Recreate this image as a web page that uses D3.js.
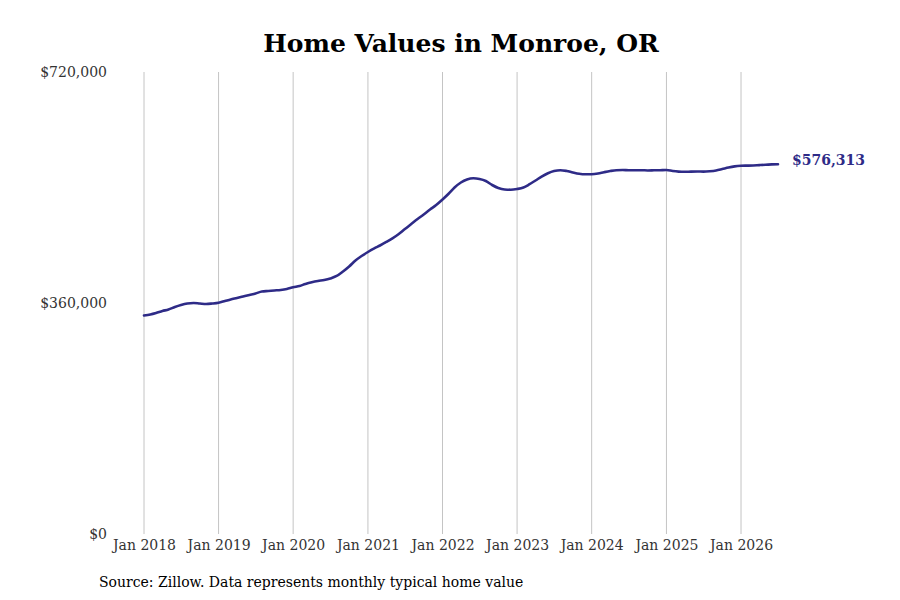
<!DOCTYPE html>
<html>
<head>
<meta charset="utf-8">
<script src="https://cdn.jsdelivr.net/npm/d3@7"></script>
<style>
  body { margin: 0; background: #fff; }
  text { font-family: "DejaVu Serif", serif; }
</style>
</head>
<body>
<script>
// monthly typical home value, Jan 2018 .. Jul 2026
let startMonth = '2018-01';
let values = [
    340500, 342100, 344400, 347500, 349900, 353800, 356900, 359200, 360000, 359200, 358400, 359200, // 2018
    360500, 363100, 365500, 367800, 370100, 372500, 374800, 377900, 378700, 379500, 380300, 381800, // 2019
    384500, 386500, 389600, 392300, 394300, 395800, 398200, 402100, 409100, 416900, 426200, 433200, // 2020
    439500, 445200, 449600, 455100, 460800, 467500, 475300, 483100, 490900, 497900, 505700, 512700, // 2021
    521300, 530600, 540000, 547800, 552500, 554300, 553200, 550100, 543900, 539200, 536900, 536600, // 2022
    537700, 540000, 544700, 550900, 557100, 562300, 565700, 567000, 565700, 563400, 561400, 560600, // 2023
    560700, 561800, 563800, 565700, 567000, 567300, 566800, 566800, 567000, 566600, 566800, 567000, // 2024
    567300, 565700, 564800, 564500, 564800, 564900, 564800, 565400, 566600, 568800, 571200, 572900, // 2025
    573800, 574100, 574400, 574900, 575400, 576000, 576313                                          // 2026
];
let yTicks = [0, 360000, 720000];
let xTickYears = [2018, 2019, 2020, 2021, 2022, 2023, 2024, 2025, 2026];

let title = 'Home Values in Monroe, OR';
let source = 'Source: Zillow. Data represents monthly typical home value';

let width = 900;
let height = 600;
let margin = {top: 72, right: 122, bottom: 66, left: 144};

let parseMonth = d3.timeParse('%Y-%m');
let start = parseMonth(startMonth);
let data = values.map((v, i) => ({date: d3.timeMonth.offset(start, i), value: v}));

let svg = d3.select('body').append('svg')
    .attr('width', width)
    .attr('height', height);

let x = d3.scaleTime()
    .domain([parseMonth('2018-01'), parseMonth('2026-07')])
    .range([margin.left, 778]);

let y = d3.scaleLinear()
    .domain([0, 720000])
    .range([height - margin.bottom, margin.top]);

// vertical grid lines
let xTicks = xTickYears.map(yr => new Date(yr, 0, 1));
svg.append('g')
    .selectAll('line')
    .data(xTicks)
    .join('line')
    .attr('x1', d => x(d))
    .attr('x2', d => x(d))
    .attr('y1', y(720000))
    .attr('y2', y(0))
    .attr('stroke', '#c4c4c4')
    .attr('stroke-width', 1);

// x axis labels
let xAxis = d3.axisBottom(x)
    .tickValues(xTicks)
    .tickFormat(d3.timeFormat('Jan %Y'))
    .tickSize(0)
    .tickPadding(6);

svg.append('g')
    .attr('transform', `translate(0,${y(0)})`)
    .call(xAxis)
    .call(g => g.select('.domain').remove())
    .selectAll('text')
    .attr('font-family', '"DejaVu Serif", serif')
    .attr('font-size', 14)
    .attr('fill', '#333');

// y axis labels
let yAxis = d3.axisLeft(y)
    .tickValues(yTicks)
    .tickFormat(d => '$' + d3.format(',')(d))
    .tickSize(0)
    .tickPadding(37);

svg.append('g')
    .attr('transform', `translate(${margin.left},0)`)
    .call(yAxis)
    .call(g => g.select('.domain').remove())
    .selectAll('text')
    .attr('font-family', '"DejaVu Serif", serif')
    .attr('font-size', 14)
    .attr('fill', '#333');

let line = d3.line()
    .x(d => x(d.date))
    .y(d => y(d.value))
    .curve(d3.curveMonotoneX);

svg.append('path')
    .datum(data)
    .attr('d', line)
    .attr('fill', 'none')
    .attr('stroke', '#2e2b87')
    .attr('stroke-width', 2.6)
    .attr('stroke-linejoin', 'round')
    .attr('stroke-linecap', 'round');

// last value label
let last = data[data.length - 1];
svg.append('text')
    .attr('x', x(last.date) + 14)
    .attr('y', y(last.value))
    .attr('dy', '0.05em')
    .attr('font-size', 14)
    .attr('font-weight', 'bold')
    .attr('fill', '#2e2b87')
    .text('$' + d3.format(',')(last.value));

svg.append('text')
    .attr('x', 461)
    .attr('y', 52)
    .attr('text-anchor', 'middle')
    .attr('font-size', 25)
    .attr('font-weight', 'bold')
    .attr('fill', '#000')
    .text(title);

svg.append('text')
    .attr('x', 99)
    .attr('y', 587)
    .attr('font-size', 14)
    .attr('fill', '#000')
    .text(source);
</script>
</body>
</html>
